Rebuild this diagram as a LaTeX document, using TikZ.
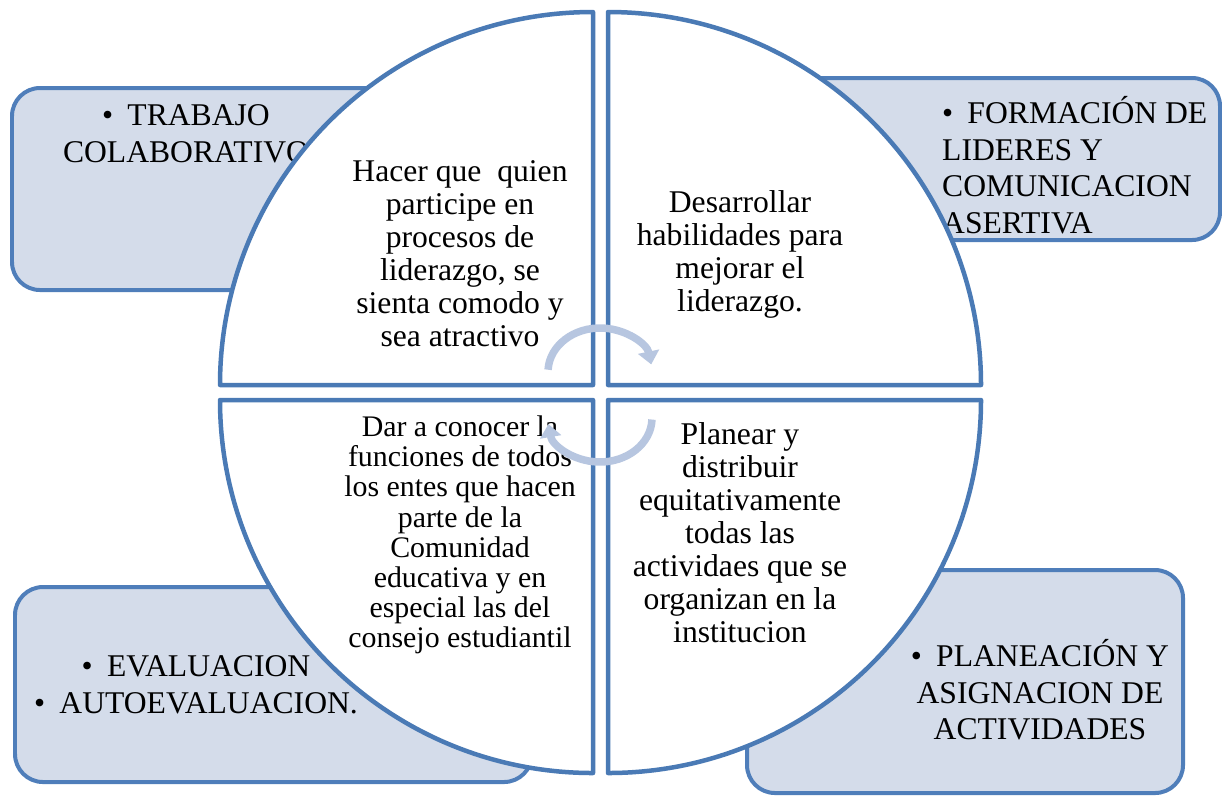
\documentclass[tikz,border=0pt]{standalone}
\usepackage{fontspec}
\setmainfont{Liberation Serif}
\usetikzlibrary{arrows.meta}
\newcommand{\bul}{•\hskip0.45em}
\begin{document}
\begin{tikzpicture}[
    x=0.02cm, y=-0.02cm, % one unit = one pixel of the layout
    outerbox/.style={
      draw={rgb,255:red,79; green,126; blue,186},
      fill={rgb,255:red,212; green,220; blue,234},
      line width=0.08cm,
      rounded corners=0.56cm
    },
    quadrant/.style={
      draw={rgb,255:red,74; green,122; blue,181},
      fill=white,
      line width=0.09cm,
      line join=round
    },
    quadtext/.style={
      align=center,
      text=black,
      font=\fontsize{18}{18.8}\selectfont
    },
    boxtext/.style={
      text=black,
      font=\fontsize{18}{20.8}\selectfont
    },
    cyclearrow/.style={
      draw={rgb,255:red,183; green,198; blue,224},
      line width=0.15cm,
      -{Triangle[length=0.26cm, width=0.42cm]}
    },
  ]
    \useasboundingbox (0,0) rectangle (1222,796);

    % Outer boxes
    \draw[outerbox] (12,88) rectangle (540,290);
    \draw[outerbox] (680,78) rectangle (1220,240);
    \draw[outerbox] (15,587) rectangle (532,782);
    \draw[outerbox] (747,570) rectangle (1183,793);

    \node[boxtext, align=center] (trabajo) at (186,134)
      {\bul TRABAJO\\COLABORATIVO};
    \node[boxtext, align=left, anchor=west] (formacion) at (936,165)
      {\bul FORMACIÓN DE\\LIDERES Y\\COMUNICACION\\ASERTIVA};
    \node[boxtext, align=center] (evaluacion) at (196,685)
      {\bul EVALUACION\\\bul AUTOEVALUACION.};
    \node[boxtext, align=center] (planeacion) at (1040,690)
      {\bul PLANEACIÓN Y\\ASIGNACION DE\\ACTIVIDADES};

    % Four quarters of the circle
    \draw[quadrant] (593,385) -- (220,385)
      arc[start angle=180, end angle=270, radius=373] -- cycle;
    \draw[quadrant] (608,385) -- (608,12)
      arc[start angle=270, end angle=360, radius=373] -- cycle;
    \draw[quadrant] (593,400) -- (593,773)
      arc[start angle=90, end angle=180, radius=373] -- cycle;
    \draw[quadrant] (608,400) -- (981,400)
      arc[start angle=0, end angle=90, radius=373] -- cycle;

    \node[quadtext] (hacer) at (460,254)
      {Hacer que\ \ quien\\participe en\\procesos de\\liderazgo, se\\sienta comodo y\\sea atractivo};
    \node[quadtext] (desarrollar) at (740,254)
      {Desarrollar\\habilidades para\\mejorar el\\liderazgo.};
    \node[quadtext, font=\fontsize{17}{17.2}\selectfont] (dar) at (460,535)
      {Dar a conocer la\\funciones de todos\\los entes que hacen\\parte de la\\Comunidad\\educativa y en\\especial las del\\consejo estudiantil};
    \node[quadtext] (planear) at (740,533)
      {Planear y\\distribuir\\equitativamente\\todas las\\actividaes que se\\organizan en la\\institucion};

    % Circular arrows in the middle
    \coordinate (upper) at (600,372);
    \coordinate (lower) at (600,418);
    \draw[cyclearrow] (upper) ++(183:52 and 44)
      arc[start angle=183, end angle=350, x radius=52, y radius=44];
    \draw[cyclearrow] (lower) ++(2:52 and 44)
      arc[start angle=2, end angle=172, x radius=52, y radius=44];
  \end{tikzpicture}
\end{document}
